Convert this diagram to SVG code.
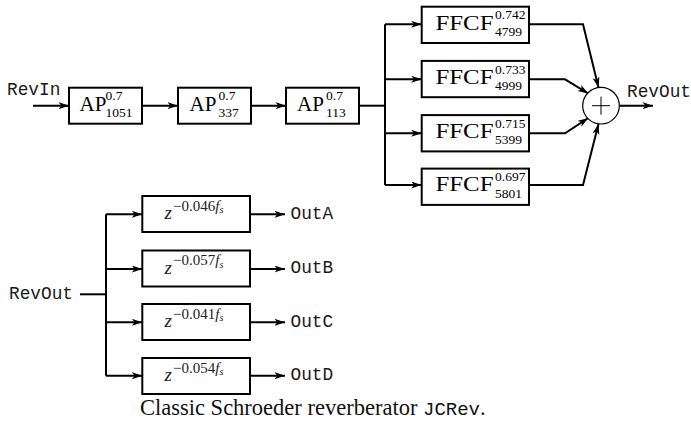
<svg xmlns="http://www.w3.org/2000/svg" width="691" height="423" viewBox="0 0 691 423">
<style>
.box{fill:#fff;stroke:#000;stroke-width:2}
.ln{fill:none;stroke:#000;stroke-width:2}
.arr{marker-end:url(#ah)}
.rm{font-family:"Liberation Serif",serif;font-size:21px;fill:#000}
.sc{font-family:"Liberation Serif",serif;font-size:13.5px;fill:#000}
.tt{font-family:"Liberation Mono",monospace;font-size:17.8px;fill:#1a1a1a}
.zi{font-family:"Liberation Serif",serif;font-style:italic;font-size:19px;fill:#222}
.zs{font-family:"Liberation Serif",serif;font-size:15px;fill:#222}
.cap{font-family:"Liberation Serif",serif;font-size:22.5px;fill:#111}
</style>
<defs>
<marker id="ah" markerWidth="11" markerHeight="8" refX="10.5" refY="3.5" orient="auto" markerUnits="userSpaceOnUse">
<path d="M0,0 L10.5,3.5 L0,7 L2.8,3.5 z" fill="#000"/>
</marker>
</defs>

<g id="connectors">
<path class="ln arr" d="M33,105.7 H69"/>
<path class="ln arr" d="M142,105.7 H178"/>
<path class="ln arr" d="M251,105.7 H286"/>
<path class="ln" d="M359,105.7 H385"/>
<path class="ln" d="M385,24.3 V185"/>
<path class="ln arr" d="M385,24.3 H421.7"/>
<path class="ln arr" d="M385,79.3 H421.7"/>
<path class="ln arr" d="M385,133.3 H421.7"/>
<path class="ln arr" d="M385,185 H421.7"/>
<path class="ln arr" d="M529,24.3 H583 L598.5,87.5"/>
<path class="ln arr" d="M529,79.3 H565 L588.3,93.5"/>
<path class="ln arr" d="M529,133.3 H565 L588.3,118"/>
<path class="ln arr" d="M529,185 H583 L598.5,124"/>
<path class="ln arr" d="M619.3,105.7 H653"/>
<path class="ln" d="M80,294.3 H106"/>
<path class="ln" d="M106,214.3 V375.7"/>
<path class="ln arr" d="M106,214.3 H142.3"/>
<path class="ln arr" d="M106,269 H142.3"/>
<path class="ln arr" d="M106,322.3 H142.3"/>
<path class="ln arr" d="M106,375.7 H142.3"/>
<path class="ln arr" d="M250,214.3 H285"/>
<path class="ln arr" d="M250,269 H285"/>
<path class="ln arr" d="M250,322.3 H285"/>
<path class="ln arr" d="M250,375.7 H285"/>
</g>

<g id="revin"><text class="tt" x="7" y="95">RevIn</text></g>

<g id="ap1">
<rect class="box" x="69" y="87.7" width="73" height="36"/>
<text class="rm" x="79.5" y="111">AP</text>
<text class="sc" x="105.5" y="100.2">0.7</text>
<text class="sc" x="105.5" y="116.8">1051</text>
</g>
<g id="ap2">
<rect class="box" x="178" y="87.7" width="73" height="36"/>
<text class="rm" x="189.5" y="111">AP</text>
<text class="sc" x="218.5" y="100.2">0.7</text>
<text class="sc" x="218.5" y="116.8">337</text>
</g>
<g id="ap3">
<rect class="box" x="286" y="87.7" width="73" height="36"/>
<text class="rm" x="297" y="111">AP</text>
<text class="sc" x="326" y="100.2">0.7</text>
<text class="sc" x="326" y="116.8">113</text>
</g>

<g id="ffcf1">
<rect class="box" x="421.7" y="6.7" width="107.3" height="36.3"/>
<text class="rm" x="435.5" y="29.5" textLength="58" lengthAdjust="spacingAndGlyphs">FFCF</text>
<text class="sc" x="495" y="19.3">0.742</text>
<text class="sc" x="495" y="35.6">4799</text>
</g>
<g id="ffcf2">
<rect class="box" x="421.7" y="60.9" width="107.3" height="36.3"/>
<text class="rm" x="435.5" y="83.7" textLength="58" lengthAdjust="spacingAndGlyphs">FFCF</text>
<text class="sc" x="495" y="73.5">0.733</text>
<text class="sc" x="495" y="89.8">4999</text>
</g>
<g id="ffcf3">
<rect class="box" x="421.7" y="115.1" width="107.3" height="36.3"/>
<text class="rm" x="435.5" y="137.9" textLength="58" lengthAdjust="spacingAndGlyphs">FFCF</text>
<text class="sc" x="495" y="127.7">0.715</text>
<text class="sc" x="495" y="144">5399</text>
</g>
<g id="ffcf4">
<rect class="box" x="421.7" y="168.6" width="107.3" height="36.3"/>
<text class="rm" x="435.5" y="191.4" textLength="58" lengthAdjust="spacingAndGlyphs">FFCF</text>
<text class="sc" x="495" y="181.2">0.697</text>
<text class="sc" x="495" y="197.5">5801</text>
</g>

<g id="sum">
<circle cx="601" cy="105.7" r="18.3" fill="#fff" stroke="#000" stroke-width="1.2"/>
<path d="M592,105.7 H610 M601,96.7 V114.7" stroke="#000" stroke-width="1" fill="none"/>
</g>
<g id="revout-top"><text class="tt" x="627" y="96.5" font-size="17.3px">RevOut</text></g>

<g id="revout-left"><text class="tt" x="9" y="298.5" font-size="17.5px">RevOut</text></g>

<g id="d1">
<rect class="box" x="142.3" y="196" width="107.7" height="36"/>
<text class="zi" x="164.5" y="219">z</text>
<text class="zs" x="173" y="210.7">−0.046<tspan font-style="italic">f</tspan><tspan font-size="10" font-style="italic" dy="2.5">s</tspan></text>
</g>
<g id="d2">
<rect class="box" x="142.3" y="250.5" width="107.7" height="36"/>
<text class="zi" x="164.5" y="273.5">z</text>
<text class="zs" x="173" y="265.2">−0.057<tspan font-style="italic">f</tspan><tspan font-size="10" font-style="italic" dy="2.5">s</tspan></text>
</g>
<g id="d3">
<rect class="box" x="142.3" y="304" width="107.7" height="36"/>
<text class="zi" x="164.5" y="327">z</text>
<text class="zs" x="173" y="318.7">−0.041<tspan font-style="italic">f</tspan><tspan font-size="10" font-style="italic" dy="2.5">s</tspan></text>
</g>
<g id="d4">
<rect class="box" x="142.3" y="358" width="107.7" height="36"/>
<text class="zi" x="164.5" y="381">z</text>
<text class="zs" x="173" y="372.7">−0.054<tspan font-style="italic">f</tspan><tspan font-size="10" font-style="italic" dy="2.5">s</tspan></text>
</g>

<g id="outA"><text class="tt" x="290.5" y="218.5">OutA</text></g>
<g id="outB"><text class="tt" x="290.5" y="273.2">OutB</text></g>
<g id="outC"><text class="tt" x="290.5" y="326.5">OutC</text></g>
<g id="outD"><text class="tt" x="290.5" y="379.9">OutD</text></g>

<g id="caption"><text class="cap" x="140" y="415">Classic Schroeder reverberator <tspan font-family="Liberation Mono, monospace" font-size="19px">JCRev</tspan>.</text></g>
</svg>
